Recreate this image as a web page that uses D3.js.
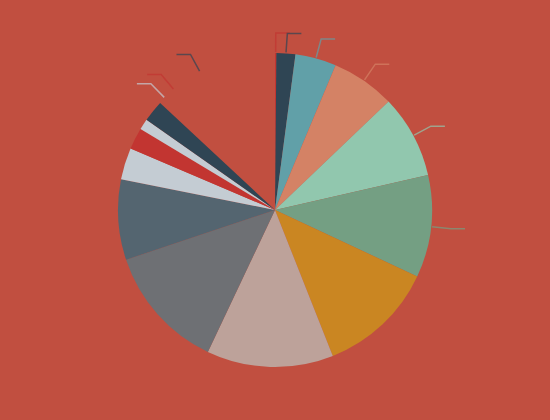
<!DOCTYPE html>
<html>
<head>
<meta charset="utf-8">
<script src="https://cdn.jsdelivr.net/npm/d3@7.9.0/dist/d3.min.js"></script>
<style>
  html, body { margin: 0; padding: 0; background: #c14f40; }
  svg { display: block; }
</style>
</head>
<body>
<svg id="pie" width="550" height="420"></svg>
<script>
// slice names (no labels are rendered in the picture)
const items = ["Item 1", "Item 2", "Item 3", "Item 4", "Item 5", "Item 6", "Item 7", "Item 8", "Item 9",
  "Item 10", "Item 11", "Item 12", "Item 13", "Item 14", "Item 15", "Item 16", "Item 17", "Item 18"];
const values = [0.5, 7, 15.2, 23.6, 30.8, 37.9, 43.3, 46.9, 46.2, 29.7, 11.8, 8, 4, 7.9, 5, 4, 19, 19];
const colors = ["#c23531", "#2f4554", "#61a0a8", "#d48265", "#91c7ae", "#749f83", "#ca8622", "#bda29a",
  "#6e7074", "#546570", "#c4ccd3", "#c23531", "#c4ccd3", "#2f4554", "#c4ccd3", "#c23531", "#2f4554", "#c23531"];
// the picture was taken mid sweep: only the first slices are filled
const drawnSlices = 14;
// slices whose label line is visible
const withLine = [0, 1, 2, 3, 4, 5, 14, 15, 16];

const svg = d3.select("#pie");
const width = +svg.attr("width");
const height = +svg.attr("height");
const radius = 157;

const data = items.map((name, i) => ({ name, value: values[i], color: colors[i], index: i }));

const pie = d3.pie()
  .sort(null)
  .value(d => d.value);

const arcs = pie(data);

const arc = d3.arc()
  .innerRadius(0)
  .outerRadius(radius);

const g = svg.append("g")
  .attr("transform", `translate(${width / 2},${height / 2})`);

g.selectAll("path.slice")
  .data(arcs.filter(a => a.data.index < drawnSlices))
  .enter()
  .append("path")
  .attr("class", "slice")
  .attr("d", arc)
  .attr("fill", d => d.data.color);

// label lines: radial leg then short horizontal leg
const inner = d3.arc().innerRadius(radius + 1).outerRadius(radius + 1);
const elbow = d3.arc().innerRadius(radius + 20).outerRadius(radius + 20);

g.selectAll("polyline")
  .data(arcs.filter(a => withLine.includes(a.data.index)))
  .enter()
  .append("polyline")
  .attr("points", d => {
    const p0 = inner.centroid(d);
    const p1 = elbow.centroid(d);
    const mid = (d.startAngle + d.endAngle) / 2;
    const dir = mid < Math.PI ? 1 : -1;
    const p2 = [p1[0] + dir * 14, p1[1]];
    return [p0, p1, p2].map(p => p.join(",")).join(" ");
  })
  .attr("fill", "none")
  .attr("stroke", d => d.data.color)
  .attr("stroke-opacity", 0.7)
  .attr("stroke-width", 1.5);
</script>
</body>
</html>
